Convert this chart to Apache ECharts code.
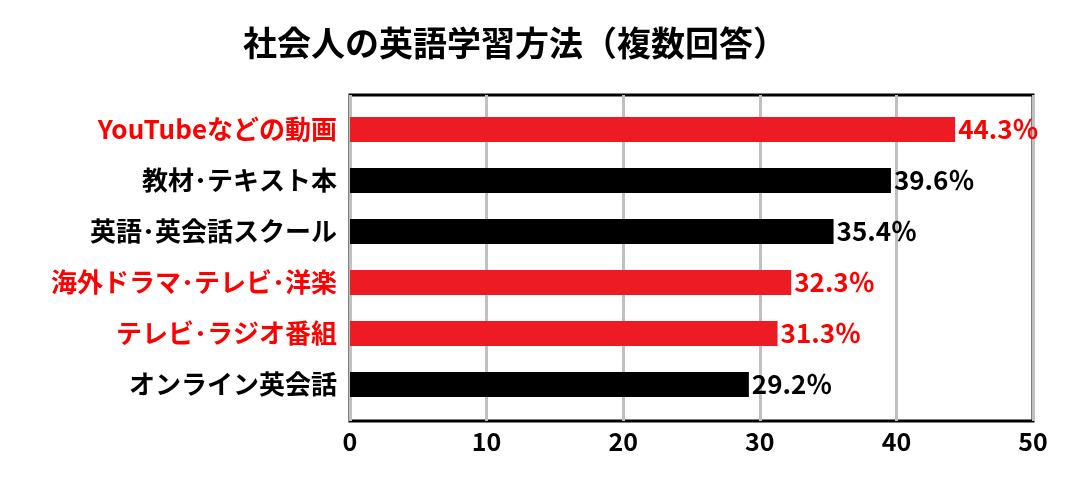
<!DOCTYPE html>
<html>
<head>
<meta charset="utf-8">
<script src="https://cdn.jsdelivr.net/npm/echarts@6/dist/echarts.min.js"></script>
<style>
  html, body { margin: 0; padding: 0; background: #fff; }
  #chart { width: 1088px; height: 504px; }
</style>
</head>
<body>
<div id="chart"></div>
<script>
// データ
const titleText = '社会人の英語学習方法（複数回答）'
const categories = ['YouTubeなどの動画', '教材･テキスト本', '英語･英会話スクール', '海外ドラマ･テレビ･洋楽', 'テレビ･ラジオ番組', 'オンライン英会話']
const values = [44.3, 39.6, 35.4, 32.3, 31.3, 29.2]
const highlight = [true, false, false, true, true, false]   // 赤で強調する項目
const xTicks = [0, 10, 20, 30, 40, 50]

const FONT = '"Noto Sans CJK JP", sans-serif'
const BAR_RED = '#ED1C24'
const TEXT_RED = '#FF0000'

let myChart = echarts.init(document.getElementById('chart'))

let options = {
  animation: false,
  title: {
    text: titleText,
    left: 510,
    textAlign: 'center',
    top: 21,
    textStyle: { fontFamily: FONT, fontSize: 34, fontWeight: 'bold', color: '#000' }
  },
  // grid 0: 枠と目盛り / grid 1: 棒（上下に少し余白あり）
  grid: [
    { left: 350, right: 55, top: 95, bottom: 83, show: true, borderColor: '#000', borderWidth: 3 },
    { left: 350, right: 55, top: 104, bottom: 94 }
  ],
  xAxis: [{
    gridIndex: 0,
    type: 'value',
    min: xTicks[0],
    max: xTicks[xTicks.length - 1],
    interval: 10,
    axisLine: { show: false },
    axisTick: { show: false },
    splitLine: { show: true, lineStyle: { color: '#C0C0C0', width: 3 } },
    axisLabel: {
      margin: 8,
      fontFamily: FONT, fontSize: 25, fontWeight: 'bold', color: '#000',
      showMinLabel: true, showMaxLabel: true
    }
  }, {
    gridIndex: 1,
    type: 'value',
    min: xTicks[0],
    max: xTicks[xTicks.length - 1],
    show: false
  }],
  yAxis: [{
    gridIndex: 0,
    type: 'value',
    show: false
  }, {
    gridIndex: 1,
    type: 'category',
    data: categories,
    inverse: true,
    axisLine: { show: false },
    axisTick: { show: false },
    axisLabel: {
      margin: 13,
      fontFamily: FONT, fontSize: 26, fontWeight: 'bold',
      color: (v, i) => highlight[i] ? TEXT_RED : '#000'
    }
  }],
  series: [{
    type: 'bar',
    xAxisIndex: 1,
    yAxisIndex: 1,
    barWidth: '49%',
    data: values.map((v, i) => ({
      value: v,
      itemStyle: { color: highlight[i] ? BAR_RED : '#000' },
      label: { color: highlight[i] ? TEXT_RED : '#000' }
    })),
    label: {
      show: true,
      position: 'right',
      distance: 3,
      fontFamily: FONT, fontSize: 26, fontWeight: 'bold',
      formatter: p => p.value.toFixed(1) + '％'
    }
  }]
}

myChart.setOption(options)
</script>
</body>
</html>
